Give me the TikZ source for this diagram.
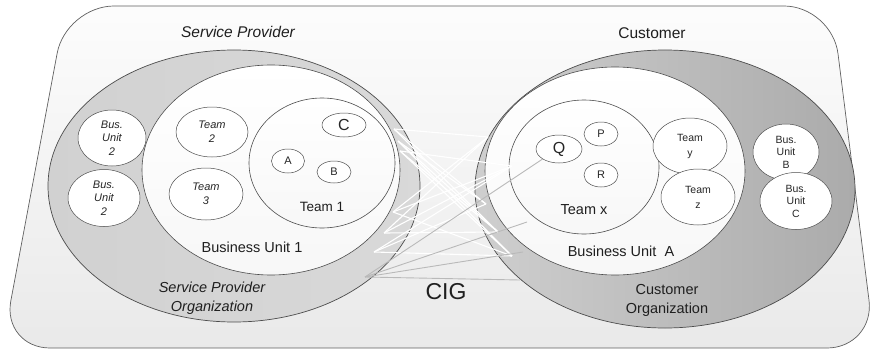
\documentclass[tikz,border=0pt]{standalone}
\usepackage{fontspec}
\setmainfont{Liberation Sans}
\usetikzlibrary{shapes.geometric}

\begin{document}
\begin{tikzpicture}[x=1pt,y=-1pt,
  frame/.style={draw=gray!75!black, line width=0.7pt, top color=gray!2, bottom color=gray!17},
  org/.style={ellipse, draw=gray!60!black, line width=0.7pt, inner sep=0pt},
  unit/.style={ellipse, draw=gray!60!black, line width=0.6pt, inner sep=0pt, top color=white, bottom color=gray!6},
  small/.style={ellipse, draw=black!70, line width=0.5pt, fill=white, inner sep=0pt, align=center, text=black!85},
  lbl/.style={text=black!88, inner sep=0pt, align=center},
  mesh/.style={white, line width=1.1pt},
  link/.style={gray!55, line width=0.9pt},
  fs/.style={font=\fontsize{#1}{#1}\selectfont},
  fsb/.style 2 args={font=\fontsize{#1}{#2}\selectfont}
]
\useasboundingbox (0,0) rectangle (877,353);

% outer frame (slanted sides, rounded corners)
\path[frame, rounded corners=48] (430,348) -- (2,348) -- (66,6) -- (832,6) -- (875,348) -- cycle;

% organisations
\node[org, minimum width=372pt, minimum height=272pt, left color=gray!36, right color=gray!30] (spo) at (234,186) {};
\node[org, minimum width=380pt, minimum height=278pt, left color=gray!38, right color=gray!66] (cuo) at (665,189) {};

% business units
\node[unit, minimum width=258pt, minimum height=210pt] (bu1) at (271,170) {};
\node[unit, minimum width=260pt, minimum height=208pt] (bua) at (615,171) {};

% team circles
\node[unit, minimum width=146pt, minimum height=130pt] (t1) at (322,163) {};
\node[unit, minimum width=150pt, minimum height=134pt] (tx) at (584,167) {};

% interaction mesh between the two sides
\coordinate (l1) at (394,129);
\coordinate (l2) at (398,141);
\coordinate (l3) at (400,151);
\coordinate (l4) at (393,212);
\coordinate (l5) at (384,233);
\coordinate (l6) at (374,252);
\coordinate (r1) at (488,137);
\coordinate (r2) at (512,166);
\coordinate (r3) at (486,204);
\coordinate (r4) at (498,232);
\coordinate (r5) at (512,256);
\foreach \a/\b in {l1/r1,l1/r3,l1/r4,l2/r3,l2/r4,l2/r5,l3/r4,l3/r5,
                   l4/r1,l4/r2,l5/r1,l5/r2,l6/r2,l6/r3,l4/r5,l5/r4,l6/r5,l3/r2}
  \draw[mesh] (\a) -- (\b);

% small units inside the teams
\node[small, minimum width=44pt, minimum height=24pt, fs=16] (c) at (344,125) {C};
\node[small, minimum width=33pt, minimum height=24pt, fs=11] (a) at (288,161) {A};
\node[small, minimum width=34pt, minimum height=22pt, fs=11] (b) at (334,172) {B};
\node[small, minimum width=46pt, minimum height=28pt, fs=16] (q) at (559,149) {Q};
\node[small, minimum width=34pt, minimum height=24pt, fs=11] (p) at (601,134) {P};
\node[small, minimum width=34pt, minimum height=24pt, fs=11] (r) at (601,175) {R};

% gray links from the provider edge
\coordinate (g) at (365,277);
\coordinate (k1) at (527,222);
\coordinate (k2) at (523,252);
\coordinate (k3) at (520,280);
\draw[link] (g) -- (q.south west);
\draw[link] (g) -- (k1);
\draw[link] (g) -- (k2);
\draw[link] (g) -- (k3);

% teams and business units
\node[small, minimum width=72pt, minimum height=50pt, fsb={11}{14}] (t2) at (212,132) {\itshape Team\\\itshape 2};
\node[small, minimum width=74pt, minimum height=52pt, fsb={11}{14}] (t3) at (206,194) {\itshape Team\\\itshape 3};
\node[small, minimum width=68pt, minimum height=56pt, fsb={11}{13.5}] (bu2a) at (112,138) {\itshape Bus.\\\itshape Unit\\\itshape 2};
\node[small, minimum width=72pt, minimum height=57pt, fsb={11}{13.5}] (bu2b) at (104,198) {\itshape Bus.\\\itshape Unit\\\itshape 2};
\node[small, minimum width=74pt, minimum height=56pt, fsb={10.5}{15}] (ty) at (690,146) {Team\\y};
\node[small, minimum width=74pt, minimum height=56pt, fsb={10.5}{15}] (tz) at (698,197) {Team\\z};
\node[small, minimum width=66pt, minimum height=56pt, fsb={10.5}{12.5}] (bub) at (786,152) {Bus.\\Unit\\B};
\node[small, minimum width=72pt, minimum height=57pt, fsb={10.5}{12.5}] (buc) at (796,201) {Bus.\\Unit\\C};

% labels
\node[lbl, fs=15.5] (lsp) at (238,32) {\itshape Service Provider};
\node[lbl, fs=15.5] (lcu) at (652,33) {Customer};
\node[lbl, fs=13.5] (lt1) at (322,207) {Team 1};
\node[lbl, fs=14.5] (lbu1) at (252,247) {Business Unit 1};
\node[lbl, fsb={14.5}{19}] (lspo) at (212,298) {\itshape Service Provider\\\itshape Organization};
\node[lbl, fs=14.5] (ltx) at (584,210) {Team x};
\node[lbl, fs=14.5] (lbua) at (621,251) {Business Unit\ \ A};
\node[lbl, fsb={14.5}{19}] (lcuo) at (667,300) {Customer\\Organization};
\node[lbl, fs=23] (lcig) at (446,292) {CIG};
\end{tikzpicture}
\end{document}
